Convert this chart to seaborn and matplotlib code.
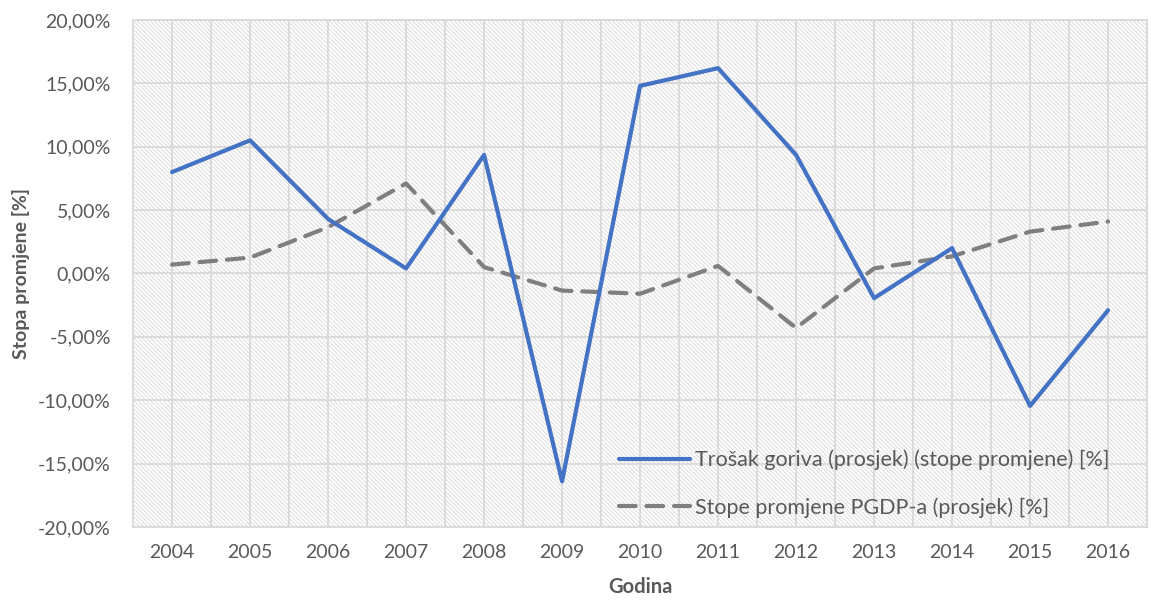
import matplotlib
matplotlib.use("Agg")
import matplotlib.pyplot as plt
import seaborn as sns
import pandas as pd
from matplotlib.patches import Rectangle
from matplotlib.ticker import FuncFormatter, MultipleLocator

years = ["2004", "2005", "2006", "2007", "2008", "2009", "2010",
         "2011", "2012", "2013", "2014", "2015", "2016"]
fuel_cost = [8.0, 10.5, 4.3, 0.4, 9.35, -16.4, 14.8, 16.2, 9.35, -1.95, 2.0, -10.45, -2.9]
pgdp = [0.7, 1.25, 3.65, 7.1, 0.5, -1.35, -1.6, 0.6, -4.3, 0.4, 1.35, 3.3, 4.1]
series_names = ["Trošak goriva (prosjek) (stope promjene) [%]",
                "Stope promjene PGDP-a (prosjek) [%]"]
y_label = "Stopa promjene [%]"
x_label = "Godina"

sns.set_theme(style="white")
plt.rcParams['font.family'] = ['Lato', 'DejaVu Sans']
plt.rcParams['hatch.color'] = '#dcdcdc'
plt.rcParams['hatch.linewidth'] = 0.7

text_color = '#595959'
fig = plt.figure(figsize=(11.51, 6.05), dpi=100)
ax = fig.add_axes([0.1156, 0.129, 0.881, 0.838])

df = pd.DataFrame({"Godina": years, "fuel": fuel_cost, "pgdp": pgdp})

sns.lineplot(data=df, x="Godina", y="fuel", ax=ax, color='#4472C4', lw=3.0,
             label=series_names[0], sort=False, zorder=4)
sns.lineplot(data=df, x="Godina", y="pgdp", ax=ax, color='#7F7F7F', lw=3.0,
             label=series_names[1], sort=False, zorder=3)
ax.lines[1].set_linestyle((0, (4, 2.6)))
ax.lines[1].set_dash_capstyle('round')

ax.set_xlim(-0.5, len(years) - 0.5)
ax.set_ylim(-20, 20)
ax.yaxis.set_major_locator(MultipleLocator(5))
ax.yaxis.set_major_formatter(FuncFormatter(lambda v, p: f"{v:.2f}%".replace('.', ',')))
ax.xaxis.set_minor_locator(MultipleLocator(0.5))

# hatched background
ax.add_patch(Rectangle((0, 0), 1, 1, transform=ax.transAxes, facecolor='white',
                       edgecolor='#dcdcdc', hatch='\\' * 8, lw=0, zorder=0))
ax.grid(True, which='major', axis='y', color='#d9d9d9', lw=1.3, zorder=1)
ax.grid(True, which='both', axis='x', color='#d9d9d9', lw=1.3, zorder=1)
for s in ax.spines.values():
    s.set_visible(True)
    s.set_color('#d9d9d9')
    s.set_linewidth(1.3)

ax.tick_params(axis='both', which='both', length=0, labelsize=14, colors=text_color)
ax.tick_params(axis='y', pad=16)
ax.tick_params(axis='x', pad=12)
ax.set_xlabel(x_label, fontsize=14.5, fontweight='bold', color=text_color, labelpad=12)
ax.set_ylabel(y_label, fontsize=14, fontweight='bold', color=text_color, labelpad=6)

leg = ax.legend(loc='lower right', bbox_to_anchor=(0.978, -0.012), frameon=False,
                fontsize=15.5, handlelength=3.3, handletextpad=0.25, labelspacing=1.25,
                borderaxespad=0.3)
for t in leg.get_texts():
    t.set_color(text_color)

fig.savefig("out.png", dpi=100)
